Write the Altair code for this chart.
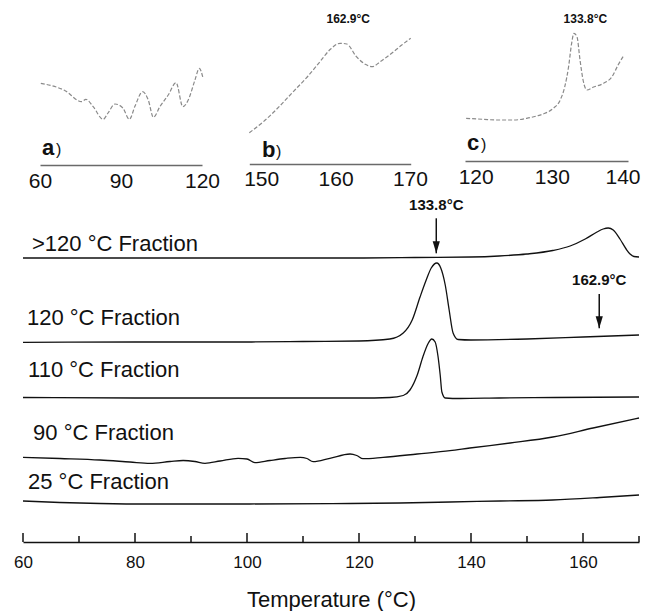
import altair as alt
import pandas as pd

FONT = "Liberation Sans"
W, H = 616, 534

# ---------------- main DSC traces (temperature in °C, offset heat flow in a.u.) ----------------
t_gt120 = [60, 80, 100, 120, 130, 140, 145, 150, 154.6, 157.7, 160.4, 162.5, 163.6, 164.5, 165.4, 166.6, 167.7, 168.4, 169.1, 170]
v_gt120 = [28.4, 28.4, 28.4, 28.4, 28.45, 28.5, 28.6, 28.8, 29.15, 29.6, 30.3, 31.0, 31.3, 31.4, 31.2, 30.3, 29.3, 28.8, 28.55, 28.5]

t_120 = [60, 80, 100, 110, 120, 125.5, 127.9, 129.5, 130.9, 132.0, 132.9, 133.9, 134.6, 135.4, 136.1, 136.8, 137.7, 140, 150, 160, 170]
v_120 = [19.97, 20.0, 20.0, 20.05, 20.1, 20.3, 20.9, 22.2, 24.5, 26.2, 27.4, 27.9, 27.4, 25.7, 23.2, 20.9, 20.25, 20.2, 20.3, 20.5, 20.7]

t_110 = [60, 80, 100, 120, 125.5, 127.9, 129.1, 130.4, 131.4, 132.3, 133.0, 133.6, 134.1, 134.5, 134.8, 135.4, 138, 145, 155, 170]
v_110 = [14.45, 14.4, 14.4, 14.4, 14.45, 14.65, 15.2, 16.7, 18.5, 19.8, 20.3, 20.0, 18.6, 16.7, 15.0, 14.4, 14.35, 14.4, 14.45, 14.5]

t_90 = [60, 66.6, 73.75, 79.1, 82.7, 86.25, 88.6, 90.7, 92.5, 95.2, 98.4, 100.0, 101.4, 104.1, 106.8, 109.5, 110.7, 111.8,
        114.8, 118.4, 119.6, 120.7, 124.3, 130.4, 136.25, 139.8, 147.0, 154.6, 161.8, 170]
v_90 = [8.47, 8.35, 8.2, 8.0, 7.87, 8.05, 8.15, 8.05, 7.87, 8.1, 8.37, 8.3, 7.93, 8.15, 8.35, 8.47, 8.35, 8.03,
        8.37, 8.8, 8.65, 8.33, 8.47, 8.8, 9.13, 9.4, 9.9, 10.5, 11.4, 12.4]

t_25 = [60, 66.6, 73.75, 82.7, 100.5, 118.4, 127.3, 136.25, 145.2, 154.6, 163, 170]
v_25 = [4.1, 3.95, 3.85, 3.8, 3.8, 3.85, 3.9, 4.0, 4.1, 4.2, 4.45, 4.7]

series_names = [">120 °C Fraction", "120 °C Fraction", "110 °C Fraction", "90 °C Fraction", "25 °C Fraction"]
label_t = [61.6, 60.7, 60.9, 61.8, 60.9]
label_v = [29.13, 21.7, 16.53, 10.2, 5.27]

peak_text = ["133.8°C", "162.9°C"]
peak_t = [133.8, 162.9]
peak_text_v = [33.2, 25.7]
arrow_top_v = [32.37, 24.8]
arrow_tip_v = [28.87, 21.37]

major_ticks = [60, 80, 100, 120, 140, 160]
minor_ticks = [70, 90, 110, 130, 150, 170]

panel_letters = ["a", "b", "c"]
panel_t = [63.4, 102.7, 139.3]
panel_v = [38.7, 38.5, 39.2]

# ---------------- insets ----------------
a_t = [60.3, 69.3, 75.4, 77, 79.7, 83.4, 85.2, 87.8, 90.7, 93.1, 95.2, 98, 100.1, 102, 104.4, 107.5, 110.4, 112.9, 114.9, 117.4, 119, 120.4]
a_v = [5.67, 4.93, 3.83, 4.07, 3.33, 2.07, 2.7, 3.6, 3.2, 2.07, 3.4, 4.83, 4.0, 2.27, 3.33, 4.5, 5.73, 3.33, 4.0, 6.0, 7.17, 6.17]

b_t = [148.4, 150.3, 152.5, 154.1, 156.3, 157.9, 159.3, 160.6, 161.5, 162.8, 164, 164.9, 166, 167.8, 168.9, 170.1]
b_v = [0.73, 1.83, 3.4, 4.67, 6.4, 7.83, 9.07, 9.67, 9.6, 8.33, 7.57, 7.33, 7.83, 8.83, 9.5, 10.17]

c_t = [118.75, 121, 122.8, 125, 126.7, 128, 129.1, 130.2, 131.1, 131.7, 132.2, 132.6, 132.9, 133.3, 133.7, 134.1, 134.6,
       135.4, 136.8, 137.9, 138.7, 139.4]
c_v = [2.17, 2.07, 2.0, 2.0, 2.17, 2.4, 2.67, 3.17, 4.0, 5.33, 7.33, 9.67, 10.67, 10.33, 8.0, 6.0, 5.0,
       5.27, 5.67, 6.33, 7.5, 8.4]

inset_b_label, inset_b_label_t, inset_b_label_v = "162.9°C", 161.7, 11.73
inset_c_label, inset_c_label_t, inset_c_label_v = "133.8°C", 134.4, 11.73

# ---------------- build data frames ----------------
all_t = [t_gt120, t_120, t_110, t_90, t_25]
all_v = [v_gt120, v_120, v_110, v_90, v_25]
curves = pd.concat(
    [pd.DataFrame({"T": t, "v": v, "series": name}) for t, v, name in zip(all_t, all_v, series_names)],
    ignore_index=True,
)
labels_df = pd.DataFrame({"T": label_t, "v": label_v, "label": series_names})
peaks_df = pd.DataFrame({"T": peak_t, "v": peak_text_v, "label": peak_text})
arrows_df = pd.DataFrame({"T": peak_t, "v": arrow_top_v, "v2": arrow_tip_v})
heads_df = pd.DataFrame({"T": peak_t, "v": arrow_tip_v})
major_df = pd.DataFrame({"T": major_ticks})
minor_df = pd.DataFrame({"T": minor_ticks})
panel_df = pd.DataFrame({"T": panel_t, "v": panel_v, "label": panel_letters})

# ---------------- main plot ----------------
main_x = alt.Scale(domain=[60, 170], nice=False, zero=False)
main_y = alt.Scale(domain=[0, 53.4], nice=False, zero=False)
main_axis = alt.Axis(
    values=major_ticks, orient="bottom", grid=False, ticks=True, tickSize=0,
    labelPadding=12, labelFontSize=17, labelFlush=False, labelFont=FONT, labelColor="#111",
    domainColor="#111", domainWidth=1.5,
    title="Temperature (°C)", titleFont=FONT, titleFontSize=22, titleFontWeight="normal",
    titleColor="#111", titleBaseline="alphabetic", titleY=64,
)
X = alt.X("T:Q", scale=main_x, axis=main_axis)
Y = alt.Y("v:Q", scale=main_y, axis=None)

lines = alt.Chart(curves).mark_line(color="#111", strokeWidth=1.3, interpolate="monotone").encode(
    x=X, y=Y, detail="series:N"
)
labels = alt.Chart(labels_df).mark_text(
    font=FONT, fontSize=22, align="left", baseline="alphabetic", color="#111"
).encode(x=X, y=Y, text="label:N")
peak_labels = alt.Chart(peaks_df).mark_text(
    font=FONT, fontSize=15, fontWeight="bold", align="center", baseline="alphabetic", color="#111"
).encode(x=X, y=Y, text="label:N")
arrow_rules = alt.Chart(arrows_df).mark_rule(color="#111", strokeWidth=1.5).encode(
    x=X, y=Y, y2=alt.Y2("v2:Q")
)
arrow_heads = alt.Chart(heads_df).mark_point(
    shape="M-0.3,-1L0.3,-1L0,0Z", size=576, filled=True, color="#111", opacity=1, strokeWidth=0
).encode(x=X, y=Y)
major_rules = alt.Chart(major_df).mark_rule(color="#111", strokeWidth=1.5).encode(
    x=X, y=alt.value(H), y2=alt.value(H - 9)
)
minor_rules = alt.Chart(minor_df).mark_rule(color="#111", strokeWidth=1.5).encode(
    x=X, y=alt.value(H), y2=alt.value(H - 6)
)
letters = alt.Chart(panel_df).mark_text(
    font=FONT, fontSize=22, fontWeight="bold", align="left", baseline="alphabetic", color="#111"
).encode(x=X, y=Y, text="label:N")
parens = alt.Chart(panel_df).mark_text(
    font=FONT, fontSize=16, align="left", baseline="alphabetic", color="#111", dx=14, text=")"
).encode(x=X, y=Y)

main = alt.layer(lines, labels, peak_labels, arrow_rules, arrow_heads, major_rules, minor_rules, letters, parens)


# ---------------- insets ----------------
def inset(t, v, dom, rng, values, offset, pad, label=None, flush=False, flush_offset=0):
    xs = alt.Scale(domain=dom, range=rng, nice=False, zero=False)
    ys = alt.Scale(domain=[0, 14], range=[132, -8], nice=False, zero=False)
    ax = alt.Axis(
        values=values, orient="bottom", offset=offset, grid=False, ticks=True, tickSize=0,
        labelPadding=pad, labelFontSize=21, labelFlush=flush, labelFlushOffset=flush_offset,
        labelFont=FONT, labelColor="#111",
        domainColor="#6a6a6a", domainWidth=1.6, title=None,
    )
    ix = alt.X("T:Q", scale=xs, axis=ax)
    iy = alt.Y("v:Q", scale=ys, axis=None)
    df = pd.DataFrame({"T": t, "v": v})
    line = alt.Chart(df).mark_line(
        color="#8a8a8a", strokeWidth=1.2, strokeDash=[4, 2], interpolate="monotone"
    ).encode(x=ix, y=iy)
    layers = [line]
    if label is not None:
        ldf = pd.DataFrame({"T": [label[1]], "v": [label[2]], "label": [label[0]]})
        layers.append(
            alt.Chart(ldf).mark_text(
                font=FONT, fontSize=12, fontWeight="bold", align="center", baseline="alphabetic", color="#111"
            ).encode(x=ix, y=iy, text="label:N")
        )
    return alt.layer(*layers)


inset_a = inset(a_t, a_v, [60, 120], [17, 179], [60, 90, 120], -377, 5)
inset_b = inset(b_t, b_v, [148.4, 170.1], [226.3, 387.7], [150, 160, 170], -378, 4,
                (inset_b_label, inset_b_label_t, inset_b_label_v))
inset_c = inset(c_t, c_v, [118.6, 140], [442, 605], [120, 130, 140], -381, 5,
                (inset_c_label, inset_c_label_t, inset_c_label_v), flush=4, flush_offset=12)

chart = (
    alt.layer(main, inset_a, inset_b, inset_c)
    .resolve_scale(x="independent", y="independent")
    .resolve_axis(x="independent", y="independent")
    .properties(
        width=W, height=H,
        autosize=alt.AutoSizeParams(type="none"),
        padding={"left": 15, "top": 0, "right": 2, "bottom": 69},
    )
    .configure_view(strokeWidth=0)
)

chart.save("out.html", embed_options={"renderer": "svg", "actions": False})
